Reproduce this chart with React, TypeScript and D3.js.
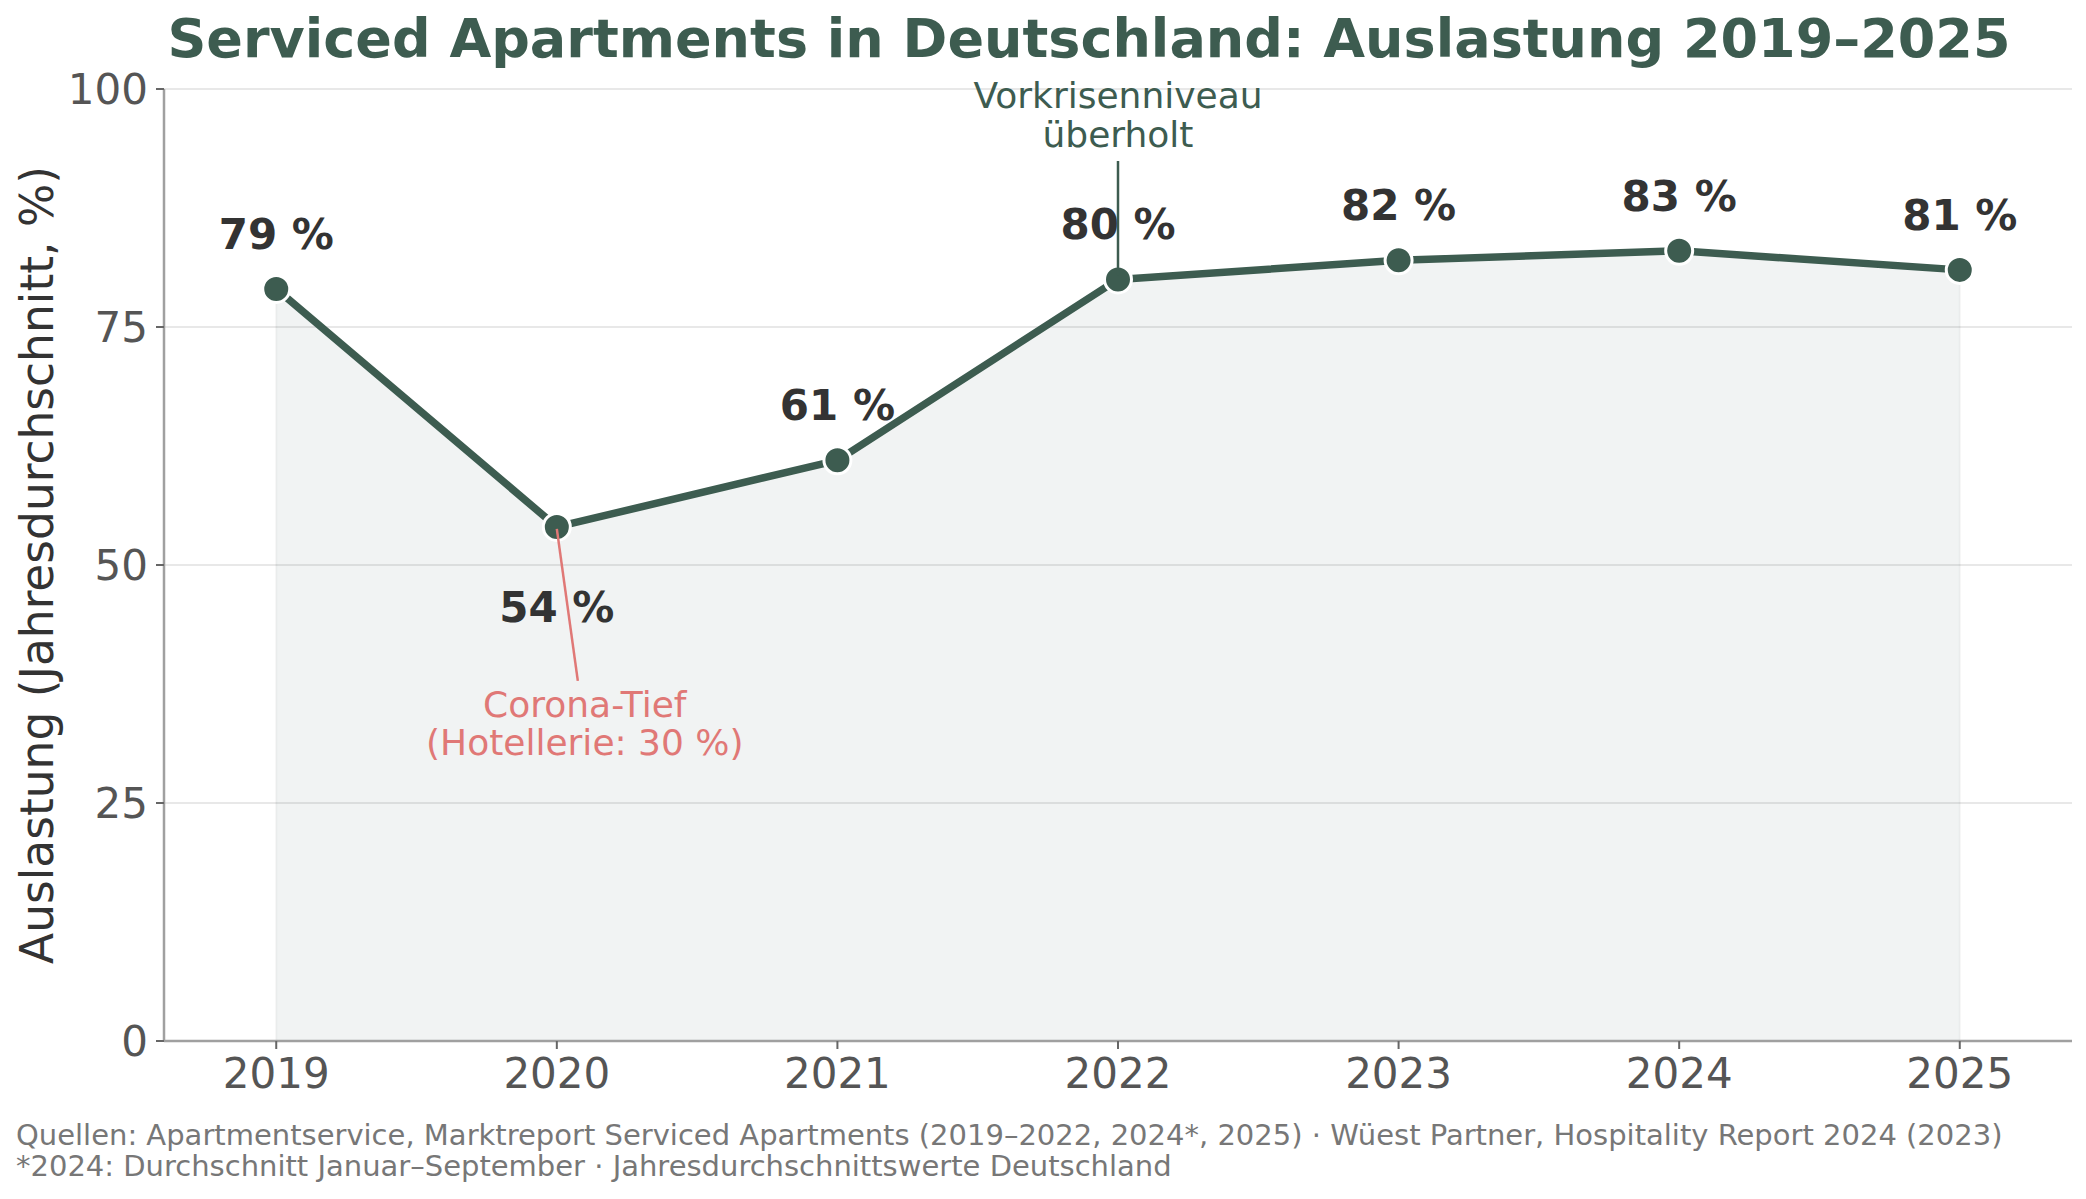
import * as d3 from 'd3';
import { type FC } from 'react';

const years = [2019, 2020, 2021, 2022, 2023, 2024, 2025];
const occupancy = [79, 54, 61, 80, 82, 83, 81];
const yTicks = [0, 25, 50, 75, 100];

const titleText = 'Serviced Apartments in Deutschland: Auslastung 2019–2025';
const yLabel = 'Auslastung (Jahresdurchschnitt, %)';
const preCrisisNote = ['Vorkrisenniveau', 'überholt'];
const coronaNote = ['Corona-Tief', '(Hotellerie: 30 %)'];
const footerLines = [
  'Quellen: Apartmentservice, Marktreport Serviced Apartments (2019–2022, 2024*, 2025) · Wüest Partner, Hospitality Report 2024 (2023)',
  '*2024: Durchschnitt Januar–September · Jahresdurchschnittswerte Deutschland',
];

const width = 2086;
const height = 1199;
const marginLeft = 164;
const marginRight = 14;
const marginTop = 89;
const marginBottom = 158;

const green = '#3d5c50';
const red = '#e07876';
const font = "'DejaVu Sans', sans-serif";

const App: FC = () => {
  const x = d3.scaleLinear([2018.6, 2025.4], [marginLeft, width - marginRight]);
  const y = d3.scaleLinear([0, 100], [height - marginBottom, marginTop]);

  const points = years.map((yr, i) => ({ yr, v: occupancy[i] }));

  const line = d3
    .line<{ yr: number; v: number }>()
    .x((d) => x(d.yr))
    .y((d) => y(d.v));

  const area = d3
    .area<{ yr: number; v: number }>()
    .x((d) => x(d.yr))
    .y0(y(0))
    .y1((d) => y(d.v));

  const x0 = x.range()[0];
  const x1 = x.range()[1];
  const yBase = y(0);

  const low = points[1];
  const peak = points[3];

  return (
    <div style={{ position: 'absolute', left: 0, top: 0 }}>
      <svg width={width} height={height} viewBox={`0 0 ${width} ${height}`} style={{ display: 'block', background: '#fff' }} fontFamily={font}>
        <text x={1089} y={57} textAnchor='middle' fontSize={54} fontWeight='bold' fill={green}>
          {titleText}
        </text>

        {/* area under line */}
        <path d={area(points) ?? undefined} fill={green} fillOpacity={0.07} stroke={green} strokeOpacity={0.06} strokeWidth={2} />

        {/* grid */}
        <g stroke='#000' strokeOpacity={0.09} strokeWidth={2}>
          {yTicks.filter((t) => t > 0).map((t) => (
            <line key={t} x1={x0} x2={x1} y1={y(t)} y2={y(t)} />
          ))}
        </g>

        {/* axes */}
        <g stroke='#a0a0a0' strokeWidth={2.5}>
          <line x1={x0} x2={x0} y1={y(100)} y2={yBase} />
          <line x1={x0} x2={x1} y1={yBase} y2={yBase} />
        </g>
        <g stroke='#666' strokeWidth={2}>
          {yTicks.map((t) => (
            <line key={t} x1={x0 - 8} x2={x0} y1={y(t)} y2={y(t)} />
          ))}
          {years.map((yr) => (
            <line key={yr} x1={x(yr)} x2={x(yr)} y1={yBase} y2={yBase + 8} />
          ))}
        </g>
        <g fontSize={42} fill='#555'>
          {yTicks.map((t) => (
            <text key={t} x={x0 - 16} y={y(t)} dy='0.36em' textAnchor='end'>
              {t}
            </text>
          ))}
          {years.map((yr) => (
            <text key={yr} x={x(yr)} y={yBase + 47} textAnchor='middle'>
              {yr}
            </text>
          ))}
        </g>
        <text
          transform={`translate(53, ${(y(0) + y(100)) / 2}) rotate(-90)`}
          textAnchor='middle'
          fontSize={45.5}
          fill='#333'
        >
          {yLabel}
        </text>

        {/* value labels */}
        <g fontSize={42} fontWeight='bold' fill='#333' textAnchor='middle'>
          {points.map((p) => (
            <text key={p.yr} x={x(p.yr)} y={p === low ? y(p.v) + 95 : y(p.v) - 40}>
              {`${p.v} %`}
            </text>
          ))}
        </g>

        {/* main line */}
        <path d={line(points) ?? undefined} fill='none' stroke={green} strokeWidth={7.5} strokeLinejoin='round' strokeLinecap='round' />

        {/* annotation texts */}
        <g fontSize={36} fill={green} textAnchor='middle'>
          {preCrisisNote.map((s, i) => (
            <text key={s} x={x(peak.yr)} y={108 + i * 39}>
              {s}
            </text>
          ))}
        </g>
        <g fontSize={36} fill={red} textAnchor='middle'>
          {coronaNote.map((s, i) => (
            <text key={s} x={x(low.yr) + 28} y={717 + i * 38}>
              {s}
            </text>
          ))}
        </g>

        {/* markers */}
        <g fill={green} stroke='#fff' strokeWidth={3}>
          {points.map((p) => (
            <circle key={p.yr} cx={x(p.yr)} cy={y(p.v)} r={13.5} />
          ))}
        </g>

        {/* annotation connectors */}
        <line x1={x(low.yr)} y1={y(low.v) + 2} x2={x(low.yr) + 21} y2={y(low.v) + 154} stroke={red} strokeWidth={2.5} />
        <line x1={x(peak.yr)} x2={x(peak.yr)} y1={161} y2={y(peak.v) - 4} stroke={green} strokeWidth={2.5} />

        {/* footer */}
        <g fontSize={29} fill='#777'>
          {footerLines.map((s, i) => (
            <text key={i} x={16} y={1145 + i * 31}>
              {s}
            </text>
          ))}
        </g>
      </svg>
    </div>
  );
};

export default App;
